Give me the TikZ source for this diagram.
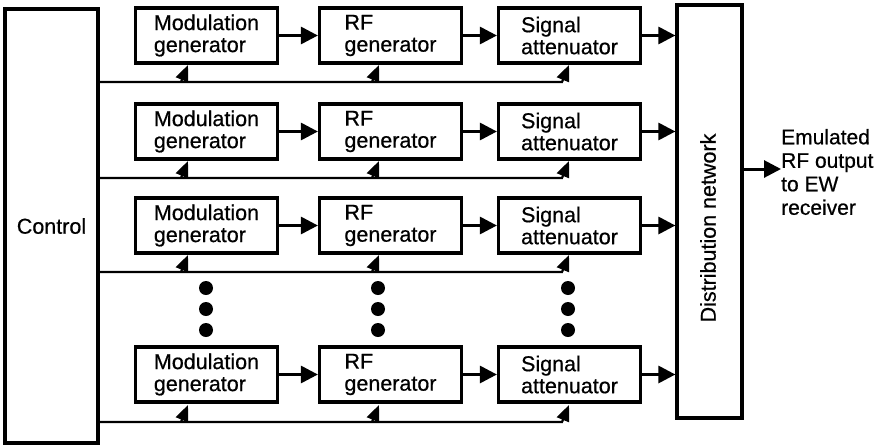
\documentclass[tikz,border=0pt]{standalone}
\usepackage{fontspec}
\setmainfont{Liberation Sans}[FakeBold=0.6]
\usetikzlibrary{arrows.meta,calc}
\begin{document}
\begin{tikzpicture}[x=1pt,y=-1pt,
  txt/.style={font=\fontsize{21.5}{22}\selectfont},
  blk/.style={txt,draw,line width=3.2pt,minimum width=142pt,minimum height=55pt,align=left,inner sep=0pt},
  bigbox/.style={txt,draw,line width=3.2pt,inner sep=0pt},
  conn/.style={line width=3pt,-{Triangle[length=17pt,width=17pt]}},
  ctl/.style={line width=2.2pt,-{Triangle[length=16pt,width=13pt]}},
  dot/.style={circle,fill,inner sep=0pt,minimum size=14pt}]
\useasboundingbox (0,0) rectangle (879,445);
% control and distribution network
\node[bigbox,minimum width=93pt,minimum height=434pt] (ctrl) at (51.5,226) {Control};
\node[bigbox,minimum width=65pt,minimum height=413pt] (dn) at (709.5,211.5) {};
\node[txt,rotate=90,inner sep=0pt] (dnl) at (708,228) {Distribution network};
% rows
\foreach \r/\y/\b in {1/35.5/82,2/131.5/178,3/225.5/272,4/374.5/422}{
  \node[blk] (mg\r) at (206.5,\y) {Modulation\\generator};
  \node[blk] (rf\r) at (390.5,\y) {RF\\generator};
  \node[blk] (sa\r) at (569.5,\y) {Signal\\attenuator};
  \draw[conn] (mg\r) -- (rf\r);
  \draw[conn] (rf\r) -- (sa\r);
  \draw[conn] (sa\r.east) -- (sa\r.east -| dn.west);
  \coordinate (bs\r) at (98,\b);
  \coordinate (bm\r) at (181,\b);
  \coordinate (br\r) at (372,\b);
  \coordinate (ba\r) at (562,\b);
  \draw[ctl] (bs\r) -- (ba\r) -- ++(7,-17);
  \draw[ctl] (bm\r) -- ++(7,-17);
  \draw[ctl] (br\r) -- ++(7,-17);
}
% ellipsis dots
\foreach \x [count=\i] in {206,378,568}{
  \foreach \yy [count=\j] in {288,309,330}{
    \node[dot] (d\i\j) at (\x,\yy) {};
  }
}
% output
\coordinate (outs) at (742,169);
\node[anchor=west,align=left,inner sep=0pt,font=\fontsize{21}{23.5}\selectfont] (out) at (781,172)
  {Emulated\\RF output\\to EW\\receiver};
\draw[conn] (outs) -- (out.west |- outs);
\end{tikzpicture}
\end{document}
